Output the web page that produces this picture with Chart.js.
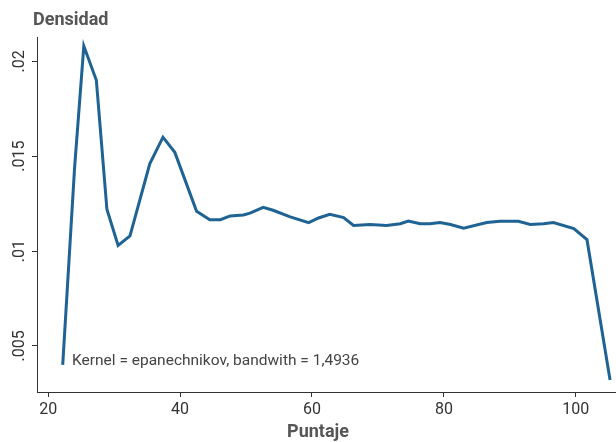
<!DOCTYPE html>
<html>
<head>
<meta charset="utf-8">
<script src="https://cdn.jsdelivr.net/npm/chart.js@4.4.1/dist/chart.umd.min.js"></script>
<style>
html,body{margin:0;padding:0;background:#fff;}
#wrap{width:616px;height:442px;position:relative;}
</style>
</head>
<body>
<div id="wrap"><canvas id="c" width="616" height="442"></canvas></div>
<script>
const puntaje = [22.2,24.0,25.4,27.3,28.9,30.6,32.4,35.4,37.4,39.2,42.5,44.5,46.1,47.6,49.6,50.6,52.6,54.1,56.7,59.5,61.0,62.7,64.8,66.3,68.8,71.3,73.4,74.6,76.4,77.9,79.4,81.0,83.0,86.5,88.5,91.3,93.1,95.1,96.6,99.7,101.7,105.2];
const densidad = [0.0040,0.0144,0.0208,0.0190,0.0122,0.0103,0.0108,0.0146,0.0160,0.0152,0.0121,0.01165,0.01165,0.01185,0.0119,0.0120,0.0123,0.01215,0.0118,0.0115,0.01174,0.01193,0.01176,0.01135,0.0114,0.01135,0.01144,0.01158,0.01144,0.01144,0.0115,0.0114,0.0112,0.0115,0.01157,0.01157,0.0114,0.01144,0.0115,0.01118,0.0106,0.0032];
const xTicks = [20,40,60,80,100];
const yTicks = [0.005,0.01,0.015,0.02];
const yTickLabels = ['.005','.01','.015','.02'];
const yTitle = 'Densidad';
const xTitle = 'Puntaje';
const note = 'Kernel = epanechnikov, bandwith = 1,4936';

const decor = {
  id:'decor',
  afterDraw(chart){
    const ctx = chart.ctx;
    const y = chart.scales.y;
    ctx.save();
    ctx.fillStyle = '#333';
    ctx.font = '16px Roboto';
    ctx.textAlign = 'center';
    ctx.textBaseline = 'middle';
    yTicks.forEach((v,i)=>{
      const py = y.getPixelForValue(v);
      ctx.save();
      ctx.translate(20, py);
      ctx.rotate(-Math.PI/2);
      ctx.fillText(yTickLabels[i], 0, 0);
      ctx.restore();
    });
    ctx.fillStyle = '#555';
    ctx.font = 'bold 18px Roboto';
    ctx.textAlign = 'left';
    ctx.fillText(yTitle, 33, 20);
    ctx.textAlign = 'center';
    ctx.fillText(xTitle, 318, 432);
    ctx.fillStyle = '#444';
    ctx.font = '15.5px Roboto';
    ctx.textAlign = 'left';
    ctx.fillText(note, 72, 361);
    ctx.restore();
  }
};

new Chart(document.getElementById('c'), {
  type:'line',
  data:{
    datasets:[{
      data: puntaje.map((p,i)=>({x:p,y:densidad[i]})),
      borderColor:'#1e6393',
      borderWidth:3,
      pointRadius:0,
      tension:0,
      fill:false
    }]
  },
  options:{
    responsive:false,
    animation:false,
    layout:{padding:{top:37,right:0,left:0,bottom:0}},
    plugins:{legend:{display:false},tooltip:{enabled:false}},
    scales:{
      x:{
        type:'linear',
        min:18.3, max:106.1,
        afterBuildTicks:s=>{s.ticks = xTicks.map(v=>({value:v}));},
        afterFit:s=>{s.height = 50;},
        grid:{drawOnChartArea:false, drawTicks:true, tickLength:5, color:'#333'},
        border:{display:true,color:'#333',width:1},
        ticks:{color:'#333',font:{family:'Roboto',size:16},padding:3,maxRotation:0,autoSkip:false}
      },
      y:{
        type:'linear',
        min:0.00257, max:0.02128,
        afterBuildTicks:s=>{s.ticks = yTicks.map(v=>({value:v}));},
        afterFit:s=>{s.width = 37;},
        grid:{drawOnChartArea:false, drawTicks:true, tickLength:5, color:'#333'},
        border:{display:true,color:'#333',width:1},
        ticks:{display:false}
      }
    }
  },
  plugins:[decor]
});
</script>
</body>
</html>
